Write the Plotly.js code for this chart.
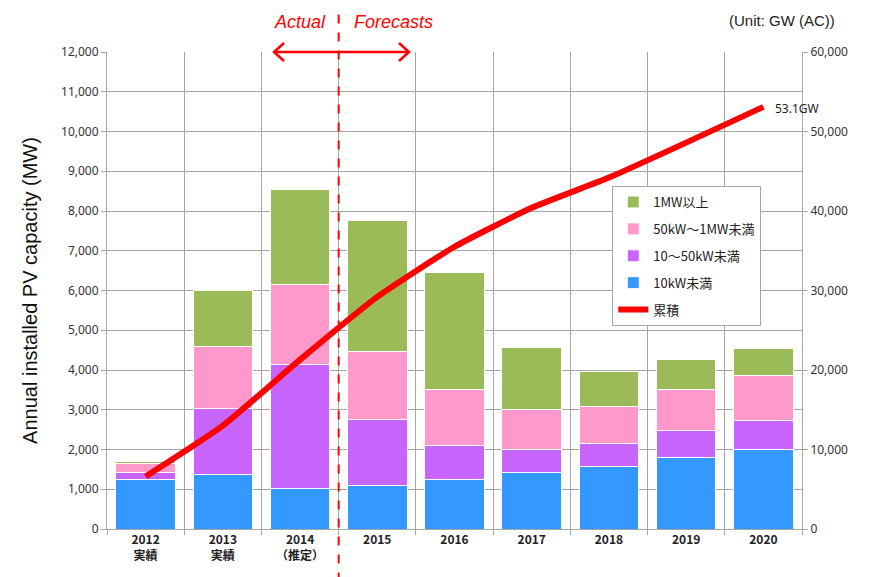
<!DOCTYPE html>
<html>
<head>
<meta charset="utf-8">
<script src="https://cdn.plot.ly/plotly-3.0.1.min.js"></script>
<style>html,body{margin:0;padding:0;background:#fff;}#chart{width:869px;height:577px;}</style>
</head>
<body>
<div id="chart"></div>
<script>
const years = ['2012','2013','2014','2015','2016','2017','2018','2019','2020'];
const tickLabels = ['2012<br>実績','2013<br>実績','2014<br>（推定）','2015','2016','2017','2018','2019','2020'];
const under10kW   = [1250, 1380, 1030, 1100, 1250, 1430, 1580, 1800, 2000];
const kW10to50    = [170, 1660, 3100, 1650, 850, 570, 580, 670, 720];
const kW50to1MW   = [220, 1550, 2030, 1720, 1400, 1000, 930, 1030, 1130];
const over1MW     = [60, 1410, 2390, 3300, 2950, 1560, 880, 760, 700];
const cumulative  = [6600, 13000, 21300, 29200, 35500, 40400, 44200, 48600, 53100];
const lastLabel = '53.1GW';

const names = ['10kW未満','10～50kW未満','50kW～1MW未満','1MW以上','累積'];
const colors = ['#3399ff','#c965ff','#ff99cc','#9bbb59','#ff0000'];

const barSeries = [under10kW, kW10to50, kW50to1MW, over1MW];
const traces = barSeries.map((vals, i) => ({
  type: 'bar', x: years, y: vals, name: names[i],
  marker: {color: colors[i], line: {color: '#ffffff', width: 1}},
  legendrank: 4 - i, legendgroup: 'g' + (4 - i),
  hoverinfo: 'skip'
}));
traces.push({
  type: 'scatter', mode: 'lines', x: years, y: cumulative, yaxis: 'y2',
  name: names[4], line: {color: colors[4], width: 6, shape: 'spline', smoothing: 0.5},
  legendrank: 5, legendgroup: 'g5'
});

const cjk = '"Noto Sans CJK JP", "Noto Sans", sans-serif';
const layout = {
  width: 869, height: 577,
  margin: {l: 107, r: 67, t: 52, b: 48},
  paper_bgcolor: '#ffffff', plot_bgcolor: '#ffffff',
  barmode: 'stack', bargap: 0.23,
  font: {family: cjk, size: 12, color: '#333333'},
  showlegend: true,
  legend: {
    x: 0.727, y: 0.719, xanchor: 'left', yanchor: 'top',
    bgcolor: '#ffffff', bordercolor: '#a6a6a6', borderwidth: 1,
    font: {family: cjk, size: 13, color: '#222222'},
    tracegroupgap: 7, traceorder: 'grouped'
  },
  xaxis: {
    type: 'category', tickvals: years, ticktext: tickLabels,
    tickson: 'boundaries', showgrid: true, gridcolor: '#a6a6a6', gridwidth: 1,
    ticks: 'outside', ticklen: 5, tickcolor: '#a6a6a6',
    showline: true, linecolor: '#a6a6a6', mirror: false,
    tickfont: {family: cjk, size: 12, color: '#222222', weight: 'bold'},
    range: [-0.5, 8.5], fixedrange: true
  },
  yaxis: {
    range: [0, 12000], dtick: 1000, tickformat: ',d',
    showgrid: true, gridcolor: '#a6a6a6', gridwidth: 1,
    ticks: 'outside', ticklen: 5, tickcolor: '#a6a6a6',
    showline: true, linecolor: '#a6a6a6', zeroline: false,
    tickfont: {family: '"Noto Sans", sans-serif', size: 12, color: '#333333'},
    title: {text: 'Annual installed PV capacity (MW)', font: {family: '"Liberation Sans", Arial, sans-serif', size: 20, color: '#111111'}, standoff: 18}
  },
  yaxis2: {
    overlaying: 'y', side: 'right', range: [0, 60000], dtick: 10000, tickformat: ',d',
    showgrid: false, ticks: 'outside', ticklen: 5, tickcolor: '#a6a6a6',
    showline: true, linecolor: '#a6a6a6', zeroline: false,
    tickfont: {family: '"Noto Sans", sans-serif', size: 12, color: '#333333'}
  },
  shapes: [
    {type: 'line', xref: 'x', yref: 'paper', x0: 2.5, x1: 2.5, y0: -0.11, y1: 1.092,
     line: {color: '#ff0000', width: 2, dash: 'dash'}},
    {type: 'line', xref: 'paper', yref: 'paper', x0: 0.2403, x1: 0.4345, y0: 1.0, y1: 1.0,
     line: {color: '#ff0000', width: 2.5}},
    {type: 'path', xref: 'paper', yref: 'paper',
     path: 'M 0.2547 1.0189 L 0.2403 1.0 L 0.2547 0.9811',
     line: {color: '#ff0000', width: 2.5}},
    {type: 'path', xref: 'paper', yref: 'paper',
     path: 'M 0.4201 1.0189 L 0.4345 1.0 L 0.4201 0.9811',
     line: {color: '#ff0000', width: 2.5}}
  ],
  annotations: [
    {xref: 'paper', yref: 'paper', x: 0.318, y: 1.063, xanchor: 'right', yanchor: 'middle',
     text: '<i>Actual</i>', showarrow: false,
     font: {family: '"Liberation Sans", Arial, sans-serif', size: 18, color: '#ff0000'}},
    {xref: 'paper', yref: 'paper', x: 0.352, y: 1.063, xanchor: 'left', yanchor: 'middle',
     text: '<i>Forecasts</i>', showarrow: false,
     font: {family: '"Liberation Sans", Arial, sans-serif', size: 18, color: '#ff0000'}},
    {xref: 'paper', yref: 'paper', x: 1.05, y: 1.067, xanchor: 'right', yanchor: 'middle',
     text: '(Unit: GW (AC))', showarrow: false,
     font: {family: '"Liberation Sans", Arial, sans-serif', size: 15, color: '#222222'}},
    {xref: 'paper', yref: 'paper', x: 0.958, y: 0.882, xanchor: 'left', yanchor: 'middle',
     text: lastLabel, showarrow: false,
     font: {family: '"Noto Sans", sans-serif', size: 12, color: '#222222'}}
  ]
};

Plotly.newPlot('chart', traces, layout, {displayModeBar: false, staticPlot: true});
</script>
</body>
</html>
